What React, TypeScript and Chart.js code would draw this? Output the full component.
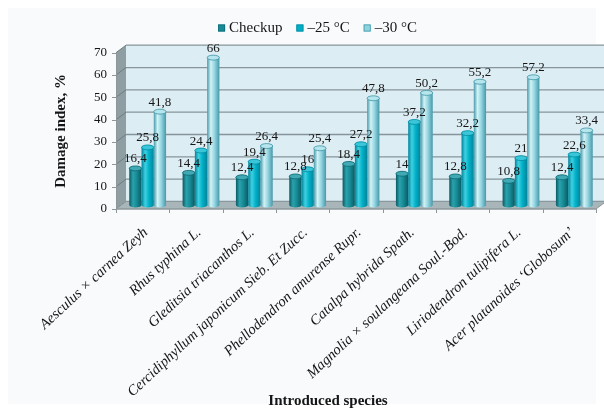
import React, { useEffect, useRef } from 'react';
import { Chart, registerables } from 'chart.js';

Chart.register(...registerables);

// Species on the category axis
const species = [
  'Aesculus × carnea Zeyh',
  'Rhus typhina L.',
  'Gleditsia triacanthos L.',
  'Cercidiphyllum japonicum Sieb. Et Zucc.',
  'Phellodendron amurense Rupr.',
  'Catalpa hybrida Spath.',
  'Magnolia × soulangeana Soul.-Bod.',
  'Liriodendron tulipifera L.',
  'Acer platanoides ‘Globosum’',
];

// Damage index, % for each treatment
const checkup = [16.4, 14.4, 12.4, 12.8, 18.4, 14, 12.8, 10.8, 12.4];
const minus25 = [25.8, 24.4, 19.4, 16, 27.2, 37.2, 32.2, 21, 22.6];
const minus30 = [41.8, 66, 26.4, 25.4, 47.8, 50.2, 55.2, 57.2, 33.4];

const seriesNames = ['Checkup', '–25 °C', '–30 °C'];
const seriesValues = [checkup, minus25, minus30];

const yMin = 0;
const yMax = 70;
const yStep = 10;

const SERIF = "'Liberation Serif', 'Times New Roman', Times, serif";
const INK = '#161616';

// depth of the back wall and of the bar plane relative to the front axes
const WALL_DX = 10;
const WALL_DY = -7.5;
const BAR_DX = 5;
const BAR_DY = -4;

type Palette = { edge: string; light: string; body: string; cap: string; rim: string; key: string; keyRim: string };

const palettes: Palette[] = [
  { edge: '#0a5a62', light: '#2aa2ad', body: '#178b96', cap: '#40a9b3', rim: '#0d6a73', key: '#168a95', keyRim: '#0f6c75' },
  { edge: '#00839a', light: '#40d0e2', body: '#00b2c9', cap: '#3ac6d9', rim: '#008ba0', key: '#00aec6', keyRim: '#008ca0' },
  { edge: '#4699a8', light: '#d2f2f7', body: '#95d6e2', cap: '#b6e5ed', rim: '#3f95a5', key: '#8fd3df', keyRim: '#3f98a8' },
];

function formatValue(v: number): string {
  return String(v).replace('.', ',');
}

function drawCylinder(ctx: CanvasRenderingContext2D, x: number, top: number, base: number, w: number, p: Palette) {
  const rx = w / 2;
  const ry = Math.max(2, w * 0.2);
  const g = ctx.createLinearGradient(x - rx, 0, x + rx, 0);
  g.addColorStop(0, p.edge);
  g.addColorStop(0.3, p.light);
  g.addColorStop(0.6, p.body);
  g.addColorStop(1, p.edge);

  ctx.beginPath();
  ctx.moveTo(x - rx, top);
  ctx.lineTo(x - rx, base);
  ctx.ellipse(x, base, rx, ry, 0, Math.PI, 0, true);
  ctx.lineTo(x + rx, top);
  ctx.ellipse(x, top, rx, ry, 0, 0, Math.PI, true);
  ctx.closePath();
  ctx.fillStyle = g;
  ctx.fill();

  ctx.beginPath();
  ctx.ellipse(x, top, rx, ry, 0, 0, Math.PI * 2);
  ctx.fillStyle = p.cap;
  ctx.fill();
  ctx.lineWidth = 0.8;
  ctx.strokeStyle = p.rim;
  ctx.stroke();
}

const scenePlugin = {
  id: 'scene3d',
  beforeDraw(chart: any) {
    const { ctx, width, height } = chart;
    ctx.save();
    ctx.fillStyle = '#ffffff';
    ctx.fillRect(0, 0, width, height);
    ctx.fillStyle = '#f8fafc';
    ctx.fillRect(8, 8, 588, 396);
    ctx.restore();
  },
  beforeDatasetsDraw(chart: any) {
    const { ctx, chartArea: ca } = chart;
    const xs = chart.scales.x;
    const ys = chart.scales.y;
    const y0 = ys.getPixelForValue(yMin);
    const yT = ys.getPixelForValue(yMax);
    const left = ca.left;
    const right = ca.right;
    ctx.save();

    // back wall
    ctx.fillStyle = '#dcedf4';
    ctx.fillRect(left + WALL_DX, yT + WALL_DY, right - left, y0 - yT);

    // horizontal grid on the back wall
    ctx.strokeStyle = '#86959a';
    ctx.lineWidth = 1.3;
    for (let v = yMin; v <= yMax; v += yStep) {
      const py = ys.getPixelForValue(v) + WALL_DY;
      ctx.beginPath();
      ctx.moveTo(left + WALL_DX, py);
      ctx.lineTo(right + WALL_DX, py);
      ctx.stroke();
    }

    // left side wall
    ctx.fillStyle = '#8f9ea3';
    ctx.beginPath();
    ctx.moveTo(left, yT);
    ctx.lineTo(left + WALL_DX, yT + WALL_DY);
    ctx.lineTo(left + WALL_DX, y0 + WALL_DY);
    ctx.lineTo(left, y0);
    ctx.closePath();
    ctx.fill();
    ctx.strokeStyle = '#6e7d82';
    ctx.lineWidth = 1;
    for (let v = yMin; v <= yMax; v += yStep) {
      const py = ys.getPixelForValue(v);
      ctx.beginPath();
      ctx.moveTo(left, py);
      ctx.lineTo(left + WALL_DX, py + WALL_DY);
      ctx.stroke();
    }

    // floor
    ctx.fillStyle = '#a9b6b9';
    ctx.beginPath();
    ctx.moveTo(left, y0);
    ctx.lineTo(right, y0);
    ctx.lineTo(right + WALL_DX, y0 + WALL_DY);
    ctx.lineTo(left + WALL_DX, y0 + WALL_DY);
    ctx.closePath();
    ctx.fill();
    ctx.strokeStyle = '#8b989b';
    ctx.stroke();

    // front axis lines and tick marks
    ctx.strokeStyle = '#8d979a';
    ctx.lineWidth = 1;
    ctx.beginPath();
    ctx.moveTo(left + 0.5, yT);
    ctx.lineTo(left + 0.5, y0);
    ctx.lineTo(right, y0);
    ctx.stroke();
    for (let v = yMin; v <= yMax; v += yStep) {
      const py = Math.round(ys.getPixelForValue(v)) + 0.5;
      ctx.beginPath();
      ctx.moveTo(left - 4, py);
      ctx.lineTo(left, py);
      ctx.stroke();
    }
    const n = chart.data.labels.length;
    const step = (right - left) / n;
    for (let i = 0; i <= n; i++) {
      const px = Math.round(xs.getPixelForValue(0) - step / 2 + i * step) + 0.5;
      ctx.beginPath();
      ctx.moveTo(px, y0);
      ctx.lineTo(px, y0 + 4);
      ctx.stroke();
    }
    ctx.restore();
  },
  beforeDatasetDraw() {
    return false;
  },
  afterDatasetsDraw(chart: any) {
    const { ctx } = chart;
    const n = chart.data.labels.length;
    const count = chart.data.datasets.length;
    ctx.save();
    ctx.translate(BAR_DX, BAR_DY);
    for (let i = 0; i < n; i++) {
      for (let d = 0; d < count; d++) {
        const el = chart.getDatasetMeta(d).data[i];
        const { x, y, base, width } = el.getProps(['x', 'y', 'base', 'width'], true);
        drawCylinder(ctx, x, y, base, width, palettes[d]);
      }
    }
    ctx.font = `13px ${SERIF}`;
    ctx.fillStyle = INK;
    ctx.textAlign = 'center';
    ctx.textBaseline = 'alphabetic';
    for (let i = 0; i < n; i++) {
      for (let d = 0; d < count; d++) {
        const el = chart.getDatasetMeta(d).data[i];
        const { x, y, width } = el.getProps(['x', 'y', 'width'], true);
        const value = chart.data.datasets[d].data[i] as number;
        ctx.fillText(formatValue(value), x, y - width * 0.2 - 3.5);
      }
    }
    ctx.restore();
  },
  afterDraw(chart: any) {
    const { ctx } = chart;
    ctx.save();
    ctx.font = `15px ${SERIF}`;
    ctx.textBaseline = 'middle';
    ctx.textAlign = 'left';
    const box = 7;
    const gap = 4;
    const spacing = 14;
    const items = chart.data.datasets.map((ds: any) => ({ text: ds.label as string, w: ctx.measureText(ds.label).width }));
    const total = items.reduce((s: number, it: any) => s + box + gap + it.w, 0) + spacing * (items.length - 1);
    let cx = 317.5 - total / 2;
    const cy = 28;
    items.forEach((it: any, d: number) => {
      ctx.fillStyle = palettes[d].key;
      ctx.fillRect(cx, cy - 3.5, box, box);
      ctx.strokeStyle = palettes[d].keyRim;
      ctx.lineWidth = 0.8;
      ctx.strokeRect(cx + 0.4, cy - 3.1, box - 0.8, box - 0.8);
      ctx.fillStyle = INK;
      ctx.fillText(it.text, cx + box + gap, cy + 0.5);
      cx += box + gap + it.w + spacing;
    });
    ctx.restore();
  },
};

export default function App() {
  const canvasRef = useRef<HTMLCanvasElement | null>(null);

  useEffect(() => {
    const canvas = canvasRef.current;
    if (!canvas) return;
    const chart = new Chart(canvas, {
      type: 'bar',
      data: {
        labels: species,
        datasets: seriesNames.map((name, d) => ({
          label: name,
          data: seriesValues[d],
          backgroundColor: palettes[d].key,
          categoryPercentage: 0.69,
          barPercentage: 1,
        })),
      },
      options: {
        animation: false,
        responsive: false,
        devicePixelRatio: 1,
        layout: { padding: { top: 52.7, left: 60, right: 8, bottom: 0 } },
        scales: {
          x: {
            grid: { display: false, drawTicks: false },
            border: { display: false },
            ticks: {
              autoSkip: false,
              maxRotation: 43,
              minRotation: 43,
              padding: 15,
              labelOffset: 3,
              color: INK,
              font: { family: SERIF, size: 14.6, style: 'italic' },
            },
            afterFit: (scale: any) => {
              scale.height = 200;
            },
          },
          y: {
            min: yMin,
            max: yMax,
            grid: { display: false, drawTicks: false },
            border: { display: false },
            ticks: {
              stepSize: yStep,
              padding: 9,
              color: INK,
              font: { family: SERIF, size: 13 },
            },
            title: {
              display: true,
              text: 'Damage index, %',
              color: INK,
              font: { family: SERIF, size: 15, weight: 'bold' },
              padding: { top: -8, bottom: 0 },
            },
            afterFit: (scale: any) => {
              scale.width = 56;
            },
          },
        },
        plugins: {
          legend: { display: false },
          tooltip: { enabled: false },
          title: {
            display: true,
            position: 'bottom',
            text: 'Introduced species',
            color: INK,
            font: { family: SERIF, size: 15, weight: 'bold' },
            padding: { top: -17, bottom: 0 },
          },
        },
      },
      plugins: [scenePlugin],
    } as any);
    return () => chart.destroy();
  }, []);

  return (
    <div style={{ position: 'absolute', left: 0, top: 0, width: 604, height: 410 }}>
      <canvas ref={canvasRef} width={604} height={410} style={{ display: 'block', width: 604, height: 410 }} />
    </div>
  );
}
